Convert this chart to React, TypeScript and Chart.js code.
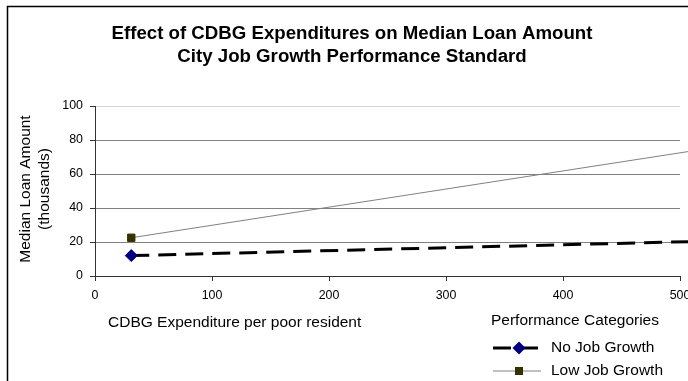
import { useEffect, useRef } from "react";
import { Chart, registerables } from "chart.js";

Chart.register(...registerables);

const titleLines = [
  "Effect of CDBG Expenditures on Median Loan Amount",
  "City Job Growth Performance Standard",
];
const xAxisTitle = "CDBG Expenditure per poor resident";
const yAxisTitle = ["Median Loan Amount", "(thousands)"];
const legendTitle = "Performance Categories";
const seriesNames = ["No Job Growth", "Low Job Growth"];

const expenditureX = [31, 600];
const noJobGrowth = [12, 21.8];
const lowJobGrowth = [22.5, 83.1];

const xTicks = [0, 100, 200, 300, 400, 500];
const yTicks = [0, 20, 40, 60, 80, 100];

const FONT = "Arial, 'Liberation Sans', sans-serif";

const decor = {
  id: "decor",
  afterDraw(chart: any) {
    const ctx = chart.ctx as CanvasRenderingContext2D;
    ctx.save();
    // outer border
    ctx.strokeStyle = "#000";
    ctx.lineWidth = 1.5;
    ctx.strokeRect(7.5, 6.5, 900, 600);

    ctx.fillStyle = "#000";
    // title
    ctx.font = `bold 18.67px ${FONT}`;
    ctx.textAlign = "center";
    ctx.textBaseline = "alphabetic";
    ctx.fillText(titleLines[0], 352, 39);
    ctx.fillText(titleLines[1], 352, 62);

    // x axis title
    ctx.font = `15.5px ${FONT}`;
    ctx.textAlign = "left";
    ctx.textBaseline = "middle";
    ctx.fillText(xAxisTitle, 108, 323);

    // y axis title
    ctx.save();
    ctx.translate(26, 189);
    ctx.rotate(-Math.PI / 2);
    ctx.textAlign = "center";
    ctx.fillText(yAxisTitle[0], 0, 0);
    ctx.fillText(yAxisTitle[1], 0, 19);
    ctx.restore();

    // legend
    ctx.textAlign = "left";
    ctx.fillText(legendTitle, 491, 321);
    chart.data.datasets.forEach((ds: any, i: number) => {
      const y = 348 + i * 23;
      ctx.save();
      ctx.strokeStyle = ds.borderColor;
      ctx.lineWidth = ds.borderWidth;
      ctx.setLineDash(ds.borderDash || []);
      ctx.beginPath();
      ctx.moveTo(493, y);
      ctx.lineTo(541, y);
      ctx.stroke();
      ctx.restore();
      const mx = 519;
      ctx.fillStyle = ds.pointBackgroundColor;
      ctx.beginPath();
      if (ds.pointStyle === "rectRot") {
        const r = 6.5;
        ctx.moveTo(mx, y - r);
        ctx.lineTo(mx + r, y);
        ctx.lineTo(mx, y + r);
        ctx.lineTo(mx - r, y);
        ctx.closePath();
      } else {
        const s = 4;
        ctx.rect(mx - s, y - s, 2 * s, 2 * s);
      }
      ctx.fill();
      ctx.fillStyle = "#000";
      ctx.fillText(ds.label, 551, y);
    });
    ctx.restore();
  },
};

export default function App() {
  const ref = useRef<HTMLCanvasElement>(null);

  useEffect(() => {
    if (!ref.current) return;
    const chart = new Chart(ref.current, {
      type: "line",
      data: {
        datasets: [
          {
            label: seriesNames[0],
            data: expenditureX.map((x, i) => ({ x, y: noJobGrowth[i] })),
            borderColor: "#000000",
            borderWidth: 3,
            borderDash: [18, 9],
            borderCapStyle: "butt",
            pointStyle: "rectRot",
            pointRadius: 6,
            pointBackgroundColor: "#000080",
            pointBorderColor: "#000080",
            pointBorderWidth: 1,
            tension: 0,
            clip: false,
          } as any,
          {
            label: seriesNames[1],
            data: expenditureX.map((x, i) => ({ x, y: lowJobGrowth[i] })),
            borderColor: "#808080",
            borderWidth: 1,
            pointStyle: "rect",
            pointRadius: 5.2,
            pointBackgroundColor: "#333300",
            pointBorderColor: "#333300",
            pointBorderWidth: 1,
            tension: 0,
            clip: false,
          } as any,
        ],
      },
      options: {
        animation: false,
        responsive: false,
        devicePixelRatio: 1,
        layout: { padding: { top: 106, right: 24, left: 0, bottom: 0 } },
        plugins: {
          legend: { display: false },
          tooltip: { enabled: false },
          title: { display: false },
        },
        scales: {
          x: {
            type: "linear",
            min: xTicks[0],
            max: xTicks[xTicks.length - 1],
            afterFit: (s: any) => {
              s.height = 105;
            },
            ticks: {
              stepSize: xTicks[1] - xTicks[0],
              color: "#000",
              padding: 7,
              maxRotation: 0,
              font: { family: FONT, size: 12.4 },
            },
            grid: {
              drawOnChartArea: false,
              drawTicks: true,
              tickLength: 5,
              tickColor: "#333",
            },
            border: { display: true, color: "#333", width: 1 },
          },
          y: {
            type: "linear",
            min: yTicks[0],
            max: yTicks[yTicks.length - 1],
            afterFit: (s: any) => {
              s.width = 95;
            },
            ticks: {
              stepSize: yTicks[1] - yTicks[0],
              color: "#000",
              padding: 7,
              font: { family: FONT, size: 12.4 },
            },
            grid: {
              color: (c: any) => (c.tick && c.tick.value === 100 ? "#d4d4d4" : "#808080"),
              tickLength: 5,
              tickColor: "#333",
            },
            border: { display: true, color: "#333", width: 1 },
          },
        },
      },
      plugins: [decor],
    });
    return () => chart.destroy();
  }, []);

  return (
    <div style={{ position: "fixed", left: 0, top: 0, width: 704, height: 381, background: "#fff" }}>
      <canvas ref={ref} width={704} height={381} style={{ display: "block" }} />
    </div>
  );
}
